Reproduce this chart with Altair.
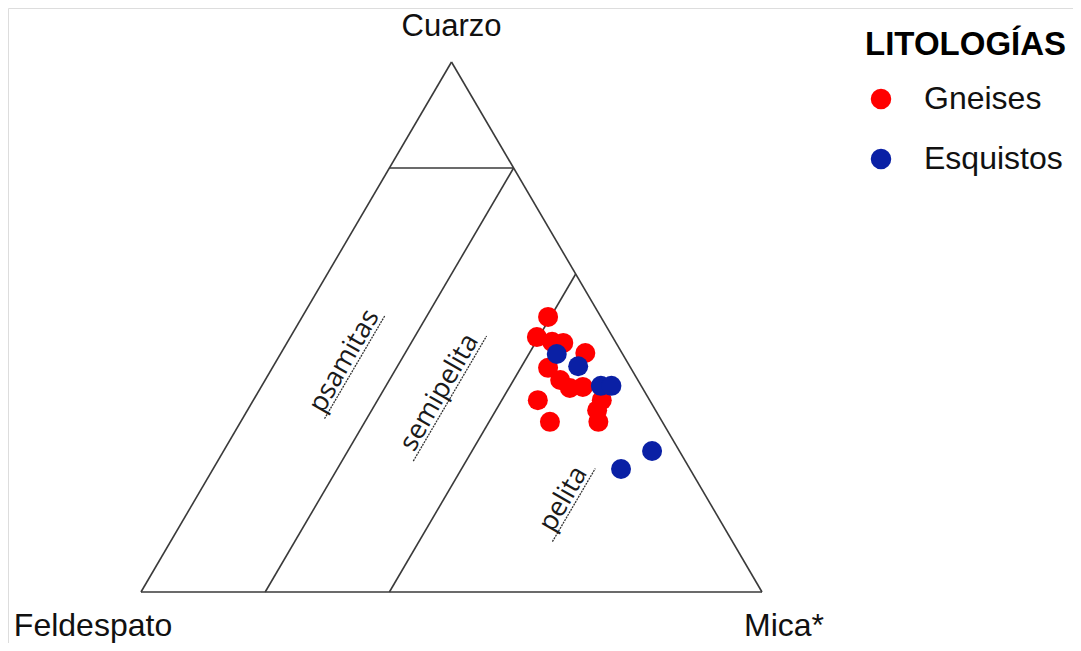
import altair as alt
import pandas as pd

# ---- Ternary data (percent): Q = Cuarzo, M = Mica*, F = Feldespato = 100 - Q - M ----
gneis_q = [51.9, 48.1, 47.2, 47.0, 45.1, 42.3, 40.0, 38.5, 38.7, 36.2, 32.1, 34.3, 32.1, 36.2]
gneis_m = [39.6, 39.7, 42.6, 44.5, 49.0, 44.4, 47.5, 49.8, 51.8, 45.8, 49.8, 56.3, 57.6, 56.1]
esq_q = [44.9, 42.6, 38.9, 38.9, 23.2, 26.6]
esq_m = [44.5, 49.1, 54.6, 56.3, 65.7, 69.0]
litologias = ["Gneises", "Esquistos"]

# Field boundaries: segments from (Q1, M1) to (Q2, M2)
seg_q1 = [0, 0, 100, 80, 0, 0]
seg_m1 = [0, 100, 0, 0, 20, 40]
seg_q2 = [0, 100, 0, 80, 80, 60]
seg_m2 = [100, 0, 0, 20, 20, 40]

# Field names (placed along lines of constant Mica*)
field_names = ["psamitas", "semipelita", "pelita"]
field_m = [13.2, 31.5, 61.5]
field_q1 = [32.7, 24.7, 9.5]
field_q2 = [52.2, 48.3, 23.3]

# Vertex labels
vertex_names = ["Cuarzo", "Feldespato", "Mica*"]
vertex_q = [100, 0, 0]
vertex_m = [0, 0, 100]

# ---- Tables ----
pts = pd.DataFrame(
    {"Q": gneis_q + esq_q, "M": gneis_m + esq_m,
     "lito": [litologias[0]] * len(gneis_q) + [litologias[1]] * len(esq_q)}
)
segs = pd.DataFrame({"q1": seg_q1, "m1": seg_m1, "q2": seg_q2, "m2": seg_m2})
fields = pd.DataFrame({"name": field_names, "m": field_m, "q1": field_q1, "q2": field_q2})
verts = pd.DataFrame({"name": vertex_names, "Q": vertex_q, "M": vertex_m})

FONT = "Liberation Sans"
xs = alt.Scale(domain=[0, 1], range=[133, 754])
ys = alt.Scale(domain=[0, 1], range=[584, 54])
X = lambda f: alt.X(f, type="quantitative", scale=xs, axis=None)
Y = lambda f: alt.Y(f, type="quantitative", scale=ys, axis=None)

lines = alt.Chart(segs).transform_calculate(
    x1="datum.m1/100 + datum.q1/200", y1="datum.q1/100",
    x2="datum.m2/100 + datum.q2/200", y2="datum.q2/100",
).mark_rule(color="#3a3a3a", strokeWidth=1.6).encode(
    x=X("x1"), y=Y("y1"), x2="x2:Q", y2="y2:Q"
)

underline = alt.Chart(fields).transform_calculate(
    x1="datum.m/100 + datum.q1/200", y1="datum.q1/100",
    x2="datum.m/100 + datum.q2/200", y2="datum.q2/100",
).mark_rule(color="#333333", strokeWidth=1.3, strokeDash=[2, 1]).encode(
    x=X("x1"), y=Y("y1"), x2="x2:Q", y2="y2:Q"
)

field_text = alt.Chart(fields).transform_calculate(
    qc="(datum.q1 + datum.q2)/2",
    x="datum.m/100 + datum.qc/200", y="datum.qc/100",
).mark_text(font="Open Sans", fontSize=27, angle=300, align="center",
            baseline="alphabetic", dy=-4, color="#1a1a1a").encode(
    x=X("x"), y=Y("y"), text="name:N"
)

vbase = alt.Chart(verts).transform_calculate(
    x="datum.M/100 + datum.Q/200", y="datum.Q/100"
)
vt_q = vbase.transform_filter("datum.name == 'Cuarzo'").mark_text(
    font=FONT, fontSize=31, align="center", baseline="alphabetic", dy=-26, color="#111111"
).encode(x=X("x"), y=Y("y"), text="name:N")
vt_f = vbase.transform_filter("datum.name == 'Feldespato'").mark_text(
    font=FONT, fontSize=32, align="center", baseline="alphabetic", dx=-48, dy=44, color="#111111"
).encode(x=X("x"), y=Y("y"), text="name:N")
vt_m = vbase.transform_filter("datum.name == 'Mica*'").mark_text(
    font=FONT, fontSize=32, align="center", baseline="alphabetic", dx=22, dy=44, color="#111111"
).encode(x=X("x"), y=Y("y"), text="name:N")

points = alt.Chart(pts).transform_calculate(
    x="datum.M/100 + datum.Q/200", y="datum.Q/100"
).mark_circle(size=400, opacity=1).encode(
    x=X("x"), y=Y("y"),
    color=alt.Color(
        "lito:N",
        scale=alt.Scale(domain=litologias, range=["#ff0000", "#0a20a5"]),
        legend=alt.Legend(
            title="LITOLOGÍAS", orient="none", legendX=857, legendY=21,
            titleFont=FONT, titleFontSize=33, titleFontWeight="bold", titleColor="black",
            titleLimit=400, labelLimit=300,
            labelFont=FONT, labelFontSize=32, labelColor="#111111",
            symbolType="circle", symbolSize=420, symbolStrokeWidth=0,
            labelOffset=27, rowPadding=28, titlePadding=21,
        ),
    ),
    order=alt.Order("lito:N", sort="descending"),
)

chart = alt.layer(lines, underline, field_text, vt_q, vt_f, vt_m, points).properties(
    width=1065, height=635, autosize=alt.AutoSizeParams(type="none"), padding=0
).configure_view(stroke=None).configure(background="white")

chart.save("out.html", embed_options={"renderer": "svg", "actions": False})
